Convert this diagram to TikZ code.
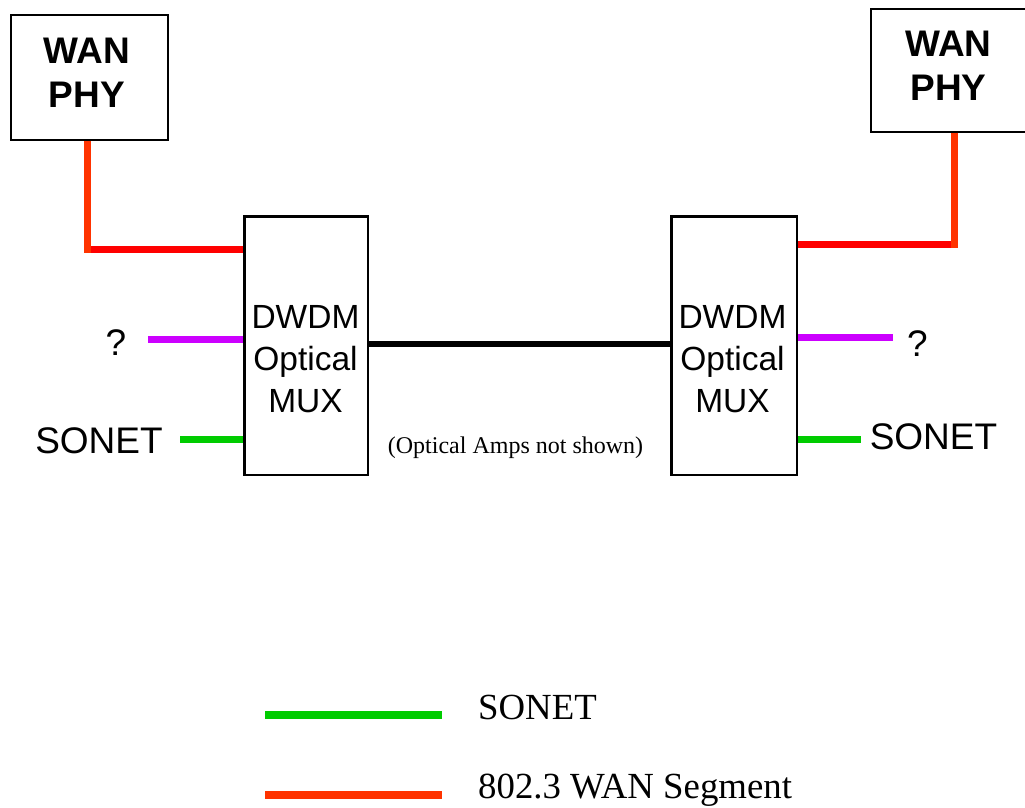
\documentclass[tikz,border=0pt]{standalone}
\usepackage{fontspec}
\setmainfont{Liberation Serif}
\setsansfont{Liberation Sans}
\begin{document}
\begin{tikzpicture}[x=1pt,y=-1pt,
  boxst/.style={draw=black,line width=1.5pt,fill=white,inner sep=0pt,anchor=north west},
  wanfont/.style={font=\sffamily\bfseries\fontsize{37}{44}\selectfont,align=center,anchor=base,inner sep=0pt},
  muxfont/.style={font=\sffamily\fontsize{33.5}{42}\selectfont,align=center,anchor=base,inner sep=0pt},
  sansl/.style={font=\sffamily\fontsize{37}{44}\selectfont,anchor=base,inner sep=0pt},
  serifl/.style={font=\rmfamily\fontsize{36.8}{43}\selectfont,anchor=base west,inner sep=0pt},
  wanv/.style={draw={rgb,255:red,255;green,51;blue,0},line width=7pt},
  wanh/.style={draw={rgb,255:red,255;green,0;blue,0},line width=7pt},
  sonetl/.style={draw={rgb,255:red,0;green,204;blue,0},line width=7pt},
  unkl/.style={draw={rgb,255:red,204;green,0;blue,255},line width=7pt},
  fiber/.style={draw=black,line width=6pt}
]
\useasboundingbox (0,0) rectangle (1025,807);
% boxes
\node[boxst,minimum width=157pt,minimum height=125pt] (wanL) at (10,14) {};
\node[boxst,minimum width=160pt,minimum height=123pt] (wanR) at (870,8) {};
\node[boxst,minimum width=123pt,minimum height=258pt] (muxL) at (244,216) {};
\node[boxst,minimum width=125pt,minimum height=258pt] (muxR) at (671,216) {};
% box texts (anchor base = baseline of last line)
\node[wanfont] (wanLt) at (87,107) {WAN\\PHY};
\node[wanfont] (wanRt) at (948.5,100) {WAN\\PHY};
\node[muxfont] (muxLt) at (305.5,412) {DWDM\\Optical\\MUX};
\node[muxfont] (muxRt) at (732.5,412) {DWDM\\Optical\\MUX};
% side labels
\node[sansl] (qL) at (116,355) {?};
\node[sansl] (sonL) at (99,453) {SONET};
\node[sansl] (qR) at (917.5,356) {?};
\node[sansl] (sonR) at (933.5,449) {SONET};
\node[font=\rmfamily\fontsize{24}{29}\selectfont,anchor=base,inner sep=0pt] (note) at (515.5,453) {(Optical Amps not shown)};
% corner coordinates
\coordinate (cL) at (87.5,249.5);
\coordinate (cR) at (954,244.5);
\coordinate (qLe) at (148,339.5);
\coordinate (sLe) at (180,439);
\coordinate (qRe) at (893,337.5);
\coordinate (sRe) at (861,439.5);
% connectors
\draw[wanh] (muxL.west |- cL) -- ([xshift=-3.5pt]cL);
\draw[wanv] (wanL.south -| cL) -- ([yshift=-3.5pt]cL);
\draw[wanh] (muxR.east |- cR) -- ([xshift=-3.5pt]cR);
\draw[wanv] (wanR.south -| cR) -- ([yshift=-3.5pt]cR);
\draw[unkl] (qLe) -- (muxL.west |- qLe);
\draw[sonetl] (sLe) -- (muxL.west |- sLe);
\draw[unkl] (muxR.east |- qRe) -- (qRe);
\draw[sonetl] (muxR.east |- sRe) -- (sRe);
\draw[fiber] (muxL.east |- 0,344) -- (muxR.west |- 0,344);
% redraw box outlines over line ends
\draw[line width=1.5pt] (muxL.north west) rectangle (muxL.south east);
\draw[line width=1.5pt] (muxR.north west) rectangle (muxR.south east);
% legend
\coordinate (lg1a) at (265,715);
\coordinate (lg1b) at (442,715);
\coordinate (lg2a) at (265,795);
\coordinate (lg2b) at (442,795);
\draw[sonetl,line width=8pt] (lg1a) -- (lg1b);
\draw[wanv,line width=8pt] (lg2a) -- (lg2b);
\node[serifl] (lgt1) at (478,719) {SONET};
\node[serifl] (lgt2) at (478,798) {802.3 WAN Segment};
\end{tikzpicture}
\end{document}
